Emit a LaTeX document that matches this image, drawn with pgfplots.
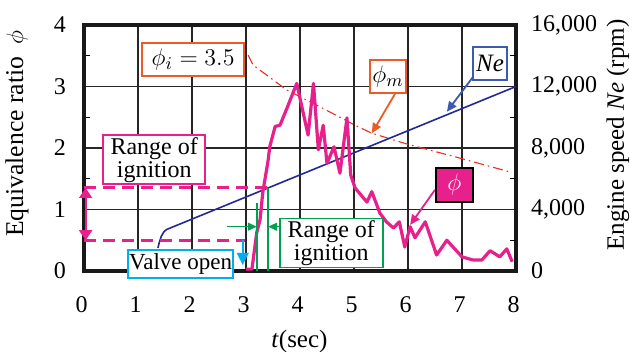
\documentclass[border=0pt]{standalone}
\usepackage{fontspec}
\setmainfont{Liberation Serif}
\usepackage{pgfplots}
\pgfplotsset{compat=1.18}
\usetikzlibrary{arrows.meta}

\definecolor{phipink}{RGB}{232,32,140}
\definecolor{ororange}{RGB}{236,90,40}
\definecolor{phired}{RGB}{235,45,35}
\definecolor{nenavy}{RGB}{35,40,150}
\definecolor{neblue}{RGB}{60,90,175}
\definecolor{igngreen}{RGB}{0,160,80}
\definecolor{valvecyan}{RGB}{0,175,235}

\begin{document}
\begin{tikzpicture}
\useasboundingbox (-42pt,-40.5pt) rectangle (274.5pt,135.5pt);
\begin{axis}[
  scale only axis, width=216pt, height=123pt,
  xmin=0, xmax=8, ymin=0, ymax=4,
  xtick={0,...,8}, ytick={0,...,4},
  minor ytick={0.5,1.5,2.5,3.5},
  ytick pos=left, xtick pos=bottom,
  major tick length=0pt, minor tick length=3pt, tick align=inside,
  grid=major, major grid style={black!85, line width=0.55pt},
  axis line style={line width=2pt, black!90, line cap=rect},
  tick style={black, line width=0.5pt},
  ticklabel style={font=\fontsize{12}{14}\selectfont},
  /pgf/number format/assume math mode=true,
  yticklabel style={xshift=-5.5pt},
  xticklabel style={yshift=-9.3pt, xshift=-1.2pt},
  clip=false,
]
% phi_m (dash-dot)
\addplot[phired, line width=0.55pt, dash pattern=on 5pt off 2pt on 0.8pt off 2pt] coordinates {
(3.04,3.51) (3.13,3.35) (3.76,2.94) (4.37,2.67) (5.02,2.37) (5.33,2.24) (6.0,2.06) (6.9,1.85) (7.89,1.61)
};
% Ne (rpm) scaled onto phi axis
\addplot[nenavy, line width=0.8pt, y filter/.expression={y/4000}] coordinates {
(1.37,1500) (1.39,1800) (1.43,2250) (1.48,2550) (1.53,2700) (8,12000)
};
% phi
\addplot[phipink, line width=1.6pt, line join=round] coordinates {
(3.0,0.03) (3.11,0.03) (3.2,0.63) (3.26,0.83) (3.31,1.27) (3.41,1.8) (3.44,2.02) (3.54,2.35) (3.63,2.37)
(3.76,2.65) (3.94,3.05) (4.15,2.21) (4.25,3.05) (4.34,1.97) (4.43,2.37) (4.5,1.75) (4.63,2.02) (4.74,1.59)
(4.87,2.49) (4.94,1.56) (5.02,1.35) (5.24,1.12) (5.33,1.29) (5.48,0.94) (5.6,0.8) (5.73,0.7) (5.84,0.8)
(5.94,0.39) (6.04,0.72) (6.13,0.54) (6.32,0.8) (6.53,0.26) (6.72,0.5) (7.0,0.23) (7.2,0.18) (7.37,0.18)
(7.52,0.33) (7.7,0.23) (7.83,0.36) (7.93,0.15)
};
% range of ignition (phi) dashed lines and double arrow
\draw[phipink, line width=1.5pt, dash pattern=on 6pt off 3.5pt] (axis cs:0,1.35) -- (axis cs:3.39,1.35);
\draw[phipink, line width=1.5pt, dash pattern=on 6pt off 3.5pt] (axis cs:0,0.5) -- (axis cs:2.98,0.5);
\draw[phipink, line width=1pt, {Triangle[length=5pt,width=6.5pt]}-{Triangle[length=5pt,width=6.5pt]}] (axis cs:0.03,0.5) -- (axis cs:0.03,1.35);
% green range of ignition (time)
\draw[igngreen, line width=0.8pt] (axis cs:3.2,0) -- (axis cs:3.2,1.11);
\draw[igngreen, line width=0.8pt] (axis cs:3.41,0) -- (axis cs:3.41,1.35);
\draw[igngreen, line width=0.7pt, -{Triangle[length=4.5pt,width=4pt]}] (axis cs:2.65,0.72) -- (axis cs:3.2,0.72);
\draw[igngreen, line width=0.7pt, -{Triangle[length=4.5pt,width=4pt]}] (axis cs:3.63,0.72) -- (axis cs:3.41,0.72);
% valve open arrow
\draw[valvecyan, line width=0.8pt, -{Triangle[length=6pt,width=6pt]}] (axis cs:2.94,0.5) -- (axis cs:2.94,0.1);
% annotation arrows
\draw[ororange, line width=0.9pt, -{Triangle[length=5pt,width=4.5pt]}] (axis cs:5.76,2.88) -- (axis cs:5.33,2.24);
\draw[neblue, line width=0.9pt, -{Triangle[length=5pt,width=4.5pt]}] (axis cs:7.2,3.15) -- (axis cs:6.72,2.59);
\draw[phipink, line width=0.9pt, -{Triangle[length=5pt,width=4.5pt]}] (axis cs:6.5,1.32) -- (axis cs:6.04,0.75);
% boxes
\node[draw=ororange, line width=0.9pt, fill=white, minimum width=51pt, minimum height=16.5pt, inner sep=0pt, font=\fontsize{12.5}{14}\selectfont] at (axis cs:2.02,3.44) {$\phi_i = 3.5$};
\node[draw=phipink, line width=0.9pt, fill=white, minimum width=51pt, minimum height=22.5pt, inner sep=1pt, align=center, font=\fontsize{12}{10.5}\selectfont] at (axis cs:1.30,1.81) {Range of\\ignition};
\node[draw=igngreen, line width=0.9pt, fill=white, minimum width=51.5pt, minimum height=23pt, inner sep=1pt, align=center, font=\fontsize{12}{10.5}\selectfont] at (axis cs:4.58,0.455) {Range of\\ignition};
\node[draw=valvecyan, line width=0.9pt, fill=white, minimum width=52.5pt, minimum height=14pt, inner sep=0pt, font=\fontsize{11.5}{13}\selectfont] at (axis cs:1.79,0.11) {Valve open};
\node[draw=ororange, line width=0.9pt, fill=white, minimum width=18pt, minimum height=16.5pt, inner sep=0pt, font=\fontsize{12.5}{14}\selectfont] at (axis cs:5.63,3.16) {$\phi_m$};
\node[draw=neblue, line width=0.9pt, fill=white, minimum width=17pt, minimum height=16.5pt, inner sep=0pt, font=\fontsize{12.5}{14}\selectfont] at (axis cs:7.52,3.37) {\textit{Ne}};
\node[draw=black, line width=1pt, fill=phipink, text=white, minimum width=18.5pt, minimum height=17pt, inner sep=0pt, font=\fontsize{12.5}{14}\selectfont] at (axis cs:6.86,1.40) {$\phi$};
\end{axis}
\begin{axis}[
  scale only axis, width=216pt, height=123pt,
  xmin=0, xmax=8, ymin=0, ymax=16000,
  hide x axis, axis y line*=right, y axis line style={draw=none},
  ytick={0,4000,8000,12000,16000},
  minor ytick={2000,6000,10000,14000},
  major tick length=0pt, minor tick length=3pt, tick align=inside,
  tick style={black, line width=0.5pt},
  scaled y ticks=false,
  ticklabel style={font=\fontsize{12}{14}\selectfont},
  /pgf/number format/.cd, 1000 sep={,}, assume math mode=true, /pgfplots/.cd,
  yticklabel style={xshift=4pt},
]
\end{axis}
\node[rotate=90, font=\fontsize{12.8}{14}\selectfont] at (-33.5pt,68.75pt) {Equivalence ratio\ \ $\phi$};
\node[rotate=90, font=\fontsize{12.5}{14}\selectfont] at (267pt,68pt) {Engine speed \textit{Ne} (rpm)};
\node[font=\fontsize{12.5}{14}\selectfont] at (107.75pt,-35pt) {\textit{t}(sec)};
\end{tikzpicture}
\end{document}
